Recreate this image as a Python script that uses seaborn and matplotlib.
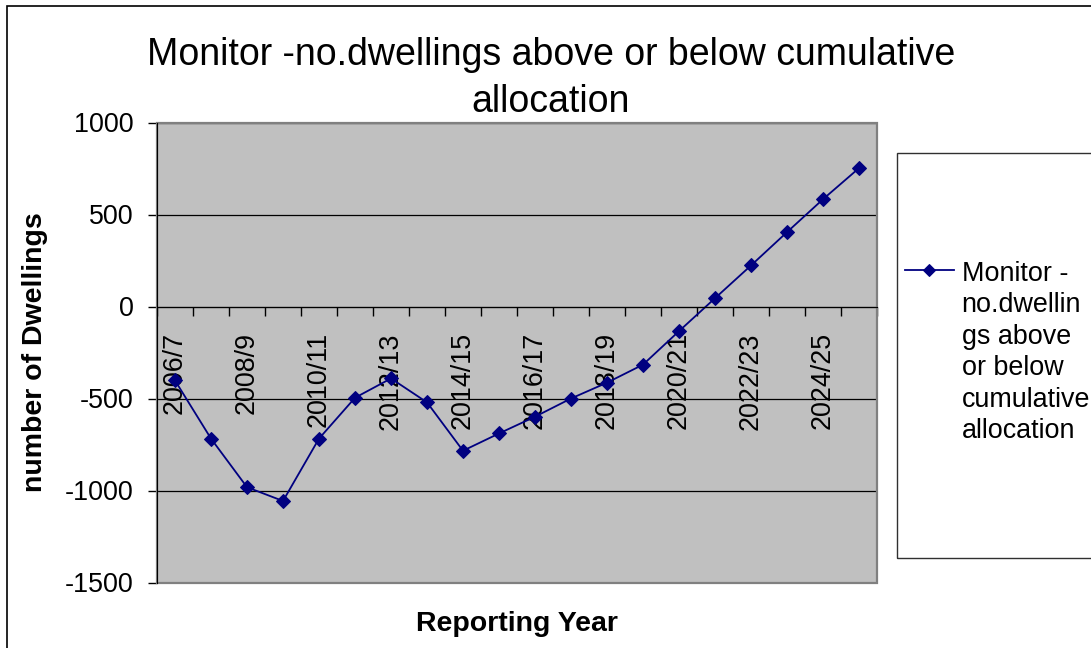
import numpy as np
import pandas as pd
import seaborn as sns
import matplotlib.pyplot as plt
from matplotlib.patches import Rectangle
from matplotlib.legend_handler import HandlerLine2D

plt.rcParams['font.family'] = ['Liberation Sans', 'DejaVu Sans']
plt.rcParams['axes.unicode_minus'] = False

# reporting years and the monitor values
years = ["2006/7", "2007/8", "2008/9", "2009/10", "2010/11", "2011/12", "2012/13",
         "2013/14", "2014/15", "2015/16", "2016/17", "2017/18", "2018/19", "2019/20",
         "2020/21", "2021/22", "2022/23", "2023/24", "2024/25", "2025/26"]
dwellings = [-402, -718, -982, -1057, -718, -496, -391, -521, -784, -690,
             -599, -500, -414, -316, -134, 45, 223, 404, 583, 752]
yticks = [-1500, -1000, -500, 0, 500, 1000]

legend_label = "Monitor -\nno.dwellin\ngs above\nor below\ncumulative\nallocation"

df = pd.DataFrame({"Year": years, "Dwellings": dwellings})

NAVY = "#000080"
FS = 19.4


class FirstLineHandler(HandlerLine2D):
    # put the legend key next to the first line of a wrapped label
    def __init__(self, shift, **kw):
        super().__init__(**kw)
        self.shift = shift

    def create_artists(self, legend, orig_handle, xdescent, ydescent, width,
                       height, fontsize, trans):
        arts = super().create_artists(legend, orig_handle, xdescent, ydescent,
                                      width, height, fontsize, trans)
        for a in arts:
            a.set_ydata(np.asarray(a.get_ydata(), dtype=float) + self.shift)
        return arts


fig = plt.figure(figsize=(10.91, 6.48), dpi=100)
ax = fig.add_axes([157 / 1091, 1 - 582.5 / 648, 720 / 1091, 460 / 648])

sns.lineplot(data=df, x="Year", y="Dwellings", ax=ax, color=NAVY, marker="D",
             markersize=7, markeredgecolor=NAVY, linewidth=1.3, label=legend_label,
             sort=False)

ax.set_facecolor("#C0C0C0")
ax.set_ylim(-1500, 1000)
ax.set_yticks(yticks)
ax.set_xlim(-0.5, len(years) - 0.5)

# category boundaries as major ticks, every other year labelled
ax.set_xticks(np.arange(-0.5, len(years), 1.0))
ax.set_xticklabels([])
ax.set_xticks(np.arange(0, len(years), 2), minor=True)
ax.set_xticklabels(years[::2], minor=True)
ax.tick_params(axis="x", which="major", direction="out", length=6.5, width=1, color="black")
ax.tick_params(axis="x", which="minor", length=0, pad=18.5,
               labelrotation=90, labelsize=FS)
ax.tick_params(axis="y", direction="out", length=6.5, width=1, pad=10.5, labelsize=FS)
for lbl in ax.get_xticklabels(minor=True):
    lbl.set_verticalalignment("top")
    lbl.set_horizontalalignment("center")

ax.yaxis.grid(True, color="black", linewidth=0.9)
ax.set_axisbelow(True)

for s in ["top", "right"]:
    ax.spines[s].set_visible(False)
ax.spines["left"].set_color("black")
ax.spines["bottom"].set_position(("data", 0))
ax.spines["bottom"].set_color("black")
ax.add_patch(Rectangle((0, 0), 1, 1, transform=ax.transAxes, fill=False,
                       edgecolor="#808080", linewidth=1.6, zorder=2.4, clip_on=False))

ax.set_xlabel("Reporting Year", fontsize=20.5, fontweight="bold")
ax.xaxis.set_label_coords(0.5, -0.062)
ax.set_ylabel("number of Dwellings", fontsize=20.5, fontweight="bold")
ax.yaxis.set_label_coords(-0.152, 0.5)

fig.text(551 / 1091, 1 - 37 / 648, "Monitor -no.dwellings above or below cumulative\nallocation",
         ha="center", va="top", fontsize=27, linespacing=1.38)

# legend box and outer chart border
fig.patches.append(Rectangle((897 / 1091, 1 - 558 / 648), 0.3, 405 / 648,
                             transform=fig.transFigure, fill=False,
                             edgecolor="#303030", linewidth=1))
fig.patches.append(Rectangle((6.5 / 1091, -0.5), 2, 1.5 - 6 / 648,
                             transform=fig.transFigure, fill=False,
                             edgecolor="black", linewidth=1.2))

line = ax.get_lines()[0]
leg = ax.legend(handles=[line], labels=[legend_label], loc="upper left",
                bbox_to_anchor=(905 / 1091, 1 - 261 / 648), bbox_transform=fig.transFigure,
                frameon=False, fontsize=FS, borderpad=0, borderaxespad=0,
                handlelength=1.8, handletextpad=0.3,
                handler_map={line: FirstLineHandler(shift=59.5, numpoints=1)})
for t in leg.get_texts():
    t.set_linespacing(1.27)
leg.get_lines()[0].set_markersize(6)

fig.savefig("out.png", dpi=100)
